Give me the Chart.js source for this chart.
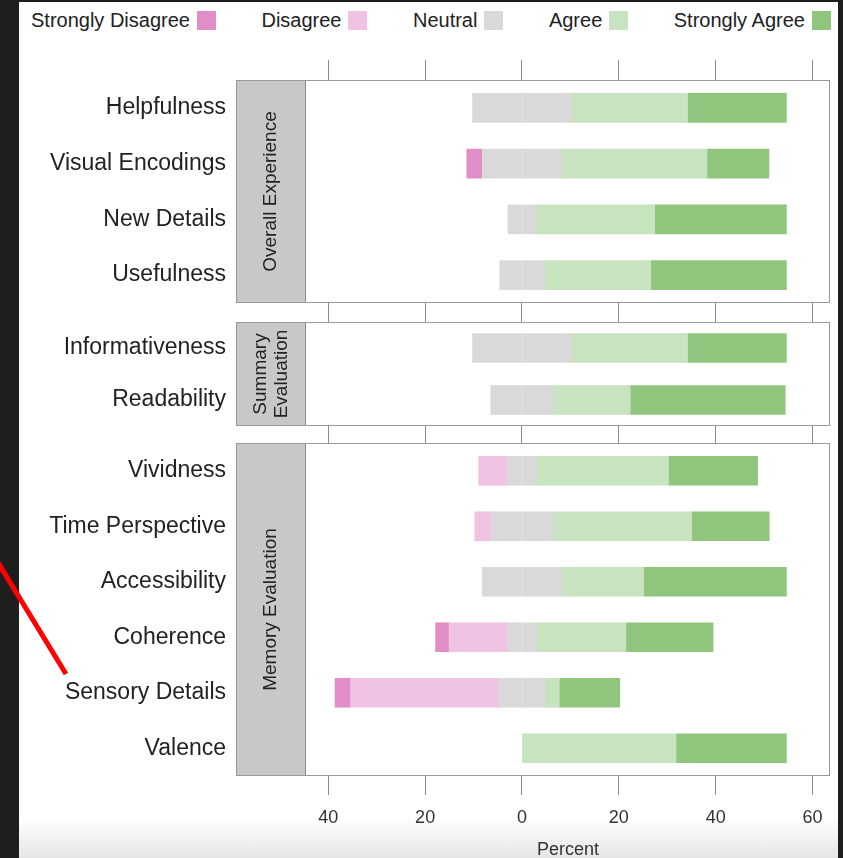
<!DOCTYPE html>
<html>
<head>
<meta charset="utf-8">
<title>Questionnaire responses</title>
<script src="https://cdn.jsdelivr.net/npm/chart.js@4.4.1/dist/chart.umd.min.js"></script>
<style>
  html, body { margin: 0; padding: 0; width: 843px; height: 858px; overflow: hidden; background: #1e1e1e;
    font-family: "Liberation Sans", Arial, Helvetica, sans-serif; }
  #sheet { position: absolute; left: 19px; top: 2px; width: 819px; height: 856px;
    background: linear-gradient(to bottom, #ffffff 0, #ffffff 815px, #e6e6e6 856px); }
  canvas { position: absolute; left: 19px; }
  #legend { position: absolute; left: 31px; top: 10px; width: 800px; display: flex;
    justify-content: space-between; align-items: center; font-size: 20px; color: #222; line-height: 20px; }
  .key { display: flex; align-items: center; white-space: nowrap; }
  .key i { display: inline-block; width: 19px; height: 19px; margin-left: 7px; }
  #pointer { position: absolute; left: 0; top: 0; }
</style>
</head>
<body>
<div id="sheet"></div>
<div id="legend"></div>
<canvas id="overall" width="819" height="320" style="top:2px"></canvas>
<canvas id="summary" width="819" height="125" style="top:318px"></canvas>
<canvas id="memory" width="819" height="422" style="top:439px"></canvas>
<svg id="pointer" width="843" height="858"><line x1="-3" y1="561" x2="66" y2="674" stroke="#ff0000" stroke-width="5"/></svg>
<script>
// Response scale and its colours
const responseLevels = ['Strongly Disagree', 'Disagree', 'Neutral', 'Agree', 'Strongly Agree'];
const levelColors = ['#e18ec8', '#f0c3e3', '#d9d9d9', '#c7e3c0', '#8fc57c'];

// Percent of participants per response, Overall Experience
const overallItems = ['Helpfulness', 'Visual Encodings', 'New Details', 'Usefulness'];
const overallStronglyDisagree = [0, 3.2, 0, 0];
const overallDisagree = [0, 0, 0, 0];
const overallNeutral = [20.4, 16.4, 5.8, 9.2];
const overallAgree = [24.0, 30.0, 24.5, 22.0];
const overallStronglyAgree = [20.4, 12.8, 27.2, 28.0];

// Summary Evaluation
const summaryItems = ['Informativeness', 'Readability'];
const summaryStronglyDisagree = [0, 0];
const summaryDisagree = [0, 0];
const summaryNeutral = [20.4, 12.9];
const summaryAgree = [24.0, 15.9];
const summaryStronglyAgree = [20.4, 32.0];

// Memory Evaluation
const memoryItems = ['Vividness', 'Time Perspective', 'Accessibility', 'Coherence', 'Sensory Details', 'Valence'];
const memoryStronglyDisagree = [0, 0, 0, 2.8, 3.2, 0];
const memoryDisagree = [6.0, 3.3, 0, 12.1, 30.7, 0];
const memoryNeutral = [5.9, 12.9, 16.4, 5.9, 9.4, 0];
const memoryAgree = [27.3, 28.6, 16.9, 18.5, 3.0, 31.8];
const memoryStronglyAgree = [18.4, 16.0, 29.5, 18.0, 12.5, 22.8];

// Shared percent axis
const percentTicks = [-40, -20, 0, 20, 40, 60];
const percentMin = -44.6;
const percentMax = 63.6;

// Panel strip titles
const overallStrip = ['Overall Experience'];
const summaryStrip = ['Summary', 'Evaluation'];
const memoryStrip = ['Memory Evaluation'];

const FONT = '"Liberation Sans", Arial, Helvetica, sans-serif';
const FRAME = '#9a9a9a';
const TICK = '#8c8c8c';
const STRIP_W = 70;
const AXIS_W = 287;

// Legend: label followed by its swatch
const legendEl = document.getElementById('legend');
responseLevels.forEach((name, i) => {
  const key = document.createElement('span');
  key.className = 'key';
  key.appendChild(document.createTextNode(name));
  const sw = document.createElement('i');
  sw.style.background = levelColors[i];
  key.appendChild(sw);
  legendEl.appendChild(key);
});

// Empty responses are left out so no zero-width sliver is drawn
const signed = (arr, k) => arr.map(v => (v === 0 ? null : v * k));

// Diverging stack: neutral is split around zero, disagreement grows leftwards
function likertDatasets(sd, d, n, a, sa) {
  return [
    { label: responseLevels[2], data: signed(n, -0.5), backgroundColor: levelColors[2] },
    { label: responseLevels[1], data: signed(d, -1), backgroundColor: levelColors[1] },
    { label: responseLevels[0], data: signed(sd, -1), backgroundColor: levelColors[0] },
    { label: responseLevels[2], data: signed(n, 0.5), backgroundColor: levelColors[2] },
    { label: responseLevels[3], data: signed(a, 1), backgroundColor: levelColors[3] },
    { label: responseLevels[4], data: signed(sa, 1), backgroundColor: levelColors[4] }
  ].map(ds => Object.assign(ds, {
    stack: 'likert', xAxisID: 'x', yAxisID: 'y', barThickness: 29, borderWidth: 0
  }));
}

// Grey strip with the panel name, and the frame around strip + panel
const panelFrame = {
  id: 'panelFrame',
  afterDraw(chart, args, opts) {
    const { ctx, chartArea } = chart;
    const { left, top, right, bottom } = chartArea;
    const sx = left - STRIP_W;
    ctx.save();
    ctx.fillStyle = '#c8c8c8';
    ctx.fillRect(sx, top, STRIP_W, bottom - top);
    ctx.strokeStyle = '#8a8a8a';
    ctx.lineWidth = 1;
    ctx.strokeRect(sx + 0.5, top + 0.5, STRIP_W - 1, bottom - top - 1);
    ctx.strokeStyle = FRAME;
    ctx.strokeRect(sx + 0.5, top + 0.5, right - sx - 1, bottom - top - 1);
    ctx.translate(sx + STRIP_W / 2, (top + bottom) / 2);
    ctx.rotate(-Math.PI / 2);
    ctx.fillStyle = '#222';
    ctx.font = '19px ' + FONT;
    ctx.textAlign = 'center';
    ctx.textBaseline = 'middle';
    const lines = opts.lines || [];
    const lh = 21;
    lines.forEach((t, i) => ctx.fillText(t, 0, (i - (lines.length - 1) / 2) * lh));
    ctx.restore();
  }
};

function percentAxis(position, tickLength, height, withLabels) {
  return {
    type: 'linear',
    position: position,
    min: percentMin,
    max: percentMax,
    stacked: true,
    afterBuildTicks: s => { s.ticks = percentTicks.map(v => ({ value: v })); },
    grid: { display: true, drawOnChartArea: false, drawTicks: true, tickLength: tickLength,
      color: TICK, tickColor: TICK, lineWidth: 1, tickWidth: 1 },
    border: { display: false },
    ticks: {
      display: withLabels,
      color: '#333',
      font: { family: FONT, size: 18 },
      padding: 12,
      maxRotation: 0,
      callback: v => String(Math.abs(v))
    },
    title: withLabels ? { display: true, text: 'Percent', color: '#333',
      font: { family: FONT, size: 18 }, padding: { top: 0, bottom: 0 } } : { display: false },
    afterFit: s => { s.height = height; s.paddingLeft = 0; s.paddingRight = 0; }
  };
}

function itemAxis() {
  return {
    type: 'category',
    stacked: true,
    grid: { display: false, drawTicks: false },
    border: { display: false },
    ticks: { color: '#222', font: { family: FONT, size: 23 }, padding: 80 },
    afterFit: s => { s.width = AXIS_W; s.paddingTop = 0; s.paddingBottom = 0; }
  };
}

function makePanel(id, labels, datasets, scales, strip, padTop) {
  return new Chart(document.getElementById(id), {
    type: 'bar',
    data: { labels: labels, datasets: datasets },
    options: {
      indexAxis: 'y',
      responsive: false,
      maintainAspectRatio: false,
      animation: false,
      events: [],
      layout: { padding: { left: 0, right: 8, top: padTop, bottom: 0 } },
      scales: scales,
      plugins: {
        legend: { display: false },
        tooltip: { enabled: false },
        panelFrame: { lines: strip }
      }
    },
    plugins: [panelFrame]
  });
}

makePanel('overall', overallItems,
  likertDatasets(overallStronglyDisagree, overallDisagree, overallNeutral, overallAgree, overallStronglyAgree),
  { x: percentAxis('bottom', 19, 19, false), xTop: percentAxis('top', 20, 78, false), y: itemAxis() },
  overallStrip, 0);

makePanel('summary', summaryItems,
  likertDatasets(summaryStronglyDisagree, summaryDisagree, summaryNeutral, summaryAgree, summaryStronglyAgree),
  { x: percentAxis('bottom', 17, 17, false), y: itemAxis() },
  summaryStrip, 4);

makePanel('memory', memoryItems,
  likertDatasets(memoryStronglyDisagree, memoryDisagree, memoryNeutral, memoryAgree, memoryStronglyAgree),
  { x: percentAxis('bottom', 19, 85, true), y: itemAxis() },
  memoryStrip, 4);
</script>
</body>
</html>
